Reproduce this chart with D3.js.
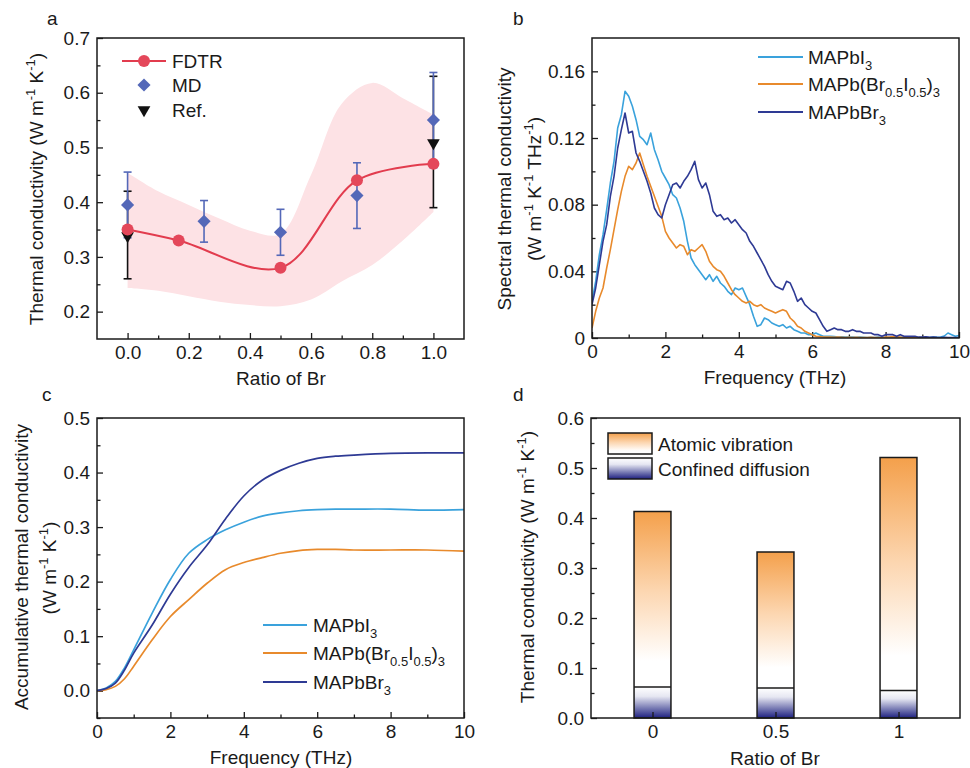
<!DOCTYPE html>
<html>
<head>
<meta charset="utf-8">
<script src="https://cdn.jsdelivr.net/npm/d3@7/dist/d3.min.js"></script>
<style>
  html, body { margin: 0; padding: 0; background: #fff; }
  svg { display: block; font-family: "Liberation Sans", Arial, Helvetica, sans-serif; }
</style>
</head>
<body>
<svg id="fig" width="970" height="768"></svg>
<script>
// ---------- (a) thermal conductivity vs Br ratio ----------
const fdtrRatio = [0, 0.167, 0.5, 0.75, 1.0];
const fdtrK     = [0.35, 0.33, 0.28, 0.44, 0.47];

const mdRatio = [0, 0.25, 0.5, 0.75, 1.0];
const mdK     = [0.395, 0.365, 0.345, 0.412, 0.55];
const mdErr   = [0.06, 0.038, 0.042, 0.06, 0.087];

const refRatio = [0, 1.0];
const refK     = [0.34, 0.51];
const refErr   = [0.08, 0.12];

const bandRatio = [0, 0.1, 0.2, 0.3, 0.4, 0.5, 0.6, 0.7, 0.8, 0.9, 1.0];
const bandHigh  = [0.454, 0.42, 0.395, 0.37, 0.348, 0.342, 0.45, 0.58, 0.618, 0.59, 0.56];
const bandLow   = [0.243, 0.238, 0.228, 0.218, 0.212, 0.21, 0.222, 0.255, 0.285, 0.33, 0.382];

// ---------- (b) spectral thermal conductivity, 0.1 THz grid from 0 to 10 THz ----------
const specI3 = [
  0.022,0.034,0.050,0.062,0.077,0.093,0.106,0.126,0.134,0.148,
  0.145,0.139,0.131,0.121,0.119,0.116,0.123,0.113,0.107,0.100,
  0.096,0.092,0.086,0.084,0.078,0.070,0.058,0.048,0.044,0.041,
  0.038,0.035,0.038,0.034,0.037,0.033,0.031,0.028,0.026,0.030,
  0.029,0.030,0.025,0.020,0.013,0.007,0.008,0.012,0.011,0.009,
  0.008,0.007,0.008,0.006,0.007,0.005,0.004,0.003,0.003,0.002,
  0.002,0.003,0.002,0.001,0.001,0.001,0.0008,0.0006,0.0007,0.0005,
  0.0005,0.0006,0.0004,0.0005,0.0004,0.0003,0.0004,0.0003,0.0005,0.0003,
  0.0004,0.0003,0.0005,0.0003,0.0004,0.0003,0.0002,0.0003,0.0004,0.0003,
  0.0003,0.0004,0.0003,0.0005,0.0004,0.0006,0.0012,0.0030,0.0020,0.0010,
  0.0015];
const specMix = [
  0.006,0.016,0.024,0.030,0.042,0.053,0.065,0.077,0.088,0.097,
  0.103,0.101,0.105,0.111,0.104,0.097,0.091,0.085,0.079,0.073,
  0.064,0.060,0.057,0.054,0.056,0.055,0.050,0.053,0.052,0.054,
  0.056,0.052,0.046,0.043,0.041,0.040,0.037,0.033,0.029,0.026,
  0.024,0.022,0.021,0.022,0.020,0.019,0.020,0.018,0.017,0.016,
  0.015,0.016,0.017,0.016,0.012,0.010,0.007,0.006,0.004,0.003,
  0.002,0.001,0.0008,0.0006,0.0005,0.0006,0.0004,0.0005,0.0004,0.0003,
  0.0004,0.0003,0.0004,0.0003,0.0002,0.0003,0.0004,0.0003,0.0002,0.0003,
  0.0005,0.0006,0.0008,0.0007,0.0005,0.0004,0.0003,0.0004,0.0003,0.0002,
  0.0002,0.0001,0.0001,0.0001,0.0001,0.0001,0.0001,0.0001,0.0001,0.0001,
  0.0001];
const specBr3 = [
  0.020,0.030,0.044,0.058,0.068,0.085,0.097,0.114,0.125,0.135,
  0.123,0.124,0.111,0.106,0.100,0.094,0.087,0.078,0.074,0.072,
  0.080,0.086,0.092,0.093,0.090,0.094,0.097,0.101,0.106,0.095,
  0.090,0.093,0.086,0.076,0.073,0.074,0.071,0.072,0.069,0.071,
  0.068,0.065,0.063,0.058,0.055,0.051,0.047,0.043,0.038,0.034,
  0.031,0.030,0.029,0.034,0.033,0.028,0.022,0.024,0.020,0.018,
  0.016,0.015,0.011,0.007,0.004,0.005,0.006,0.005,0.005,0.004,
  0.004,0.005,0.004,0.004,0.003,0.003,0.003,0.002,0.002,0.001,
  0.002,0.002,0.002,0.001,0.002,0.001,0.001,0.001,0.001,0.0005,
  0.0005,0.0007,0.0004,0.0006,0.0004,0.0003,0.0004,0.0003,0.0002,0.0003,
  0.0002];

// ---------- (c) accumulative thermal conductivity ----------
const accFreq = [0, 0.25, 0.5, 0.75, 1, 1.5, 2, 2.5, 3, 3.5, 4, 4.5, 5, 5.5, 6, 6.5, 7, 8, 9, 10];
const accI3   = [0, 0.005, 0.017, 0.042, 0.075, 0.142, 0.204, 0.252, 0.277, 0.295, 0.309, 0.320, 0.326, 0.330, 0.332, 0.333, 0.333, 0.333, 0.331, 0.332];
const accMix  = [0, 0.002, 0.008, 0.022, 0.045, 0.093, 0.136, 0.167, 0.197, 0.222, 0.235, 0.244, 0.252, 0.257, 0.259, 0.259, 0.258, 0.258, 0.258, 0.256];
const accBr3  = [0, 0.004, 0.014, 0.038, 0.069, 0.120, 0.177, 0.226, 0.267, 0.315, 0.357, 0.386, 0.404, 0.417, 0.426, 0.430, 0.432, 0.435, 0.436, 0.436];

// ---------- (d) contributions ----------
const barRatio    = [0, 0.5, 1];
const barTotal    = [0.413, 0.332, 0.521];
const barConfined = [0.062, 0.060, 0.055];

// ---------- styling ----------
const C = {
  ink: "#1a1a1a",
  I3: "#3aa2dc",
  mix: "#e88a2c",
  Br3: "#2e3a94",
  fdtr: "#e23c4e",
  fdtrPt: "#e4475a",
  band: "#fde2e5",
  md: "#5468b8",
  orange: "#f4a04b",
  navy: "#1e2080"
};
const FS = 19;     // tick / title font size
const SUBFS = 13;

const svg = d3.select("#fig");

// text with sub/superscript pieces: parts = [[string, "n"|"sup"|"sub"], ...]
function rich(sel, parts, size = FS) {
  let shift = 0;
  parts.forEach(([s, kind]) => {
    const target = kind === "sup" ? -0.42 * size : kind === "sub" ? 0.3 * size : 0;
    sel.append("tspan")
      .attr("dy", target - shift)
      .attr("font-size", kind === "n" ? size : SUBFS)
      .text(s);
    shift = target;
  });
  return sel;
}

function panel(cfg) {
  const g = svg.append("g");
  const x = d3.scaleLinear().domain(cfg.xd).range([cfg.l, cfg.r]);
  const y = d3.scaleLinear().domain(cfg.yd).range([cfg.b, cfg.t]);

  const style = s => {
    s.select(".domain").remove();
    s.selectAll(".tick line").attr("stroke", C.ink).attr("stroke-width", 1.3);
    s.selectAll(".tick text").attr("fill", C.ink).attr("font-size", FS)
      .attr("font-family", "Liberation Sans, Arial, sans-serif");
  };

  g.append("g").attr("transform", `translate(0,${cfg.b})`)
    .call(d3.axisBottom(x).tickValues(cfg.xMajor).tickFormat(cfg.xFmt).tickSize(-6).tickPadding(7))
    .call(style);
  if (cfg.xMinor) {
    g.append("g").attr("transform", `translate(0,${cfg.b})`)
      .call(d3.axisBottom(x).tickValues(cfg.xMinor).tickFormat("").tickSize(-3.5))
      .call(style);
  }
  g.append("g").attr("transform", `translate(${cfg.l},0)`)
    .call(d3.axisLeft(y).tickValues(cfg.yMajor).tickFormat(cfg.yFmt).tickSize(-6).tickPadding(7))
    .call(style);
  g.append("g").attr("transform", `translate(${cfg.l},0)`)
    .call(d3.axisLeft(y).tickValues(cfg.yMinor).tickFormat("").tickSize(-3.5))
    .call(style);

  const plot = g.append("g");
  const id = "clip" + cfg.name;
  svg.append("defs").append("clipPath").attr("id", id)
    .append("rect").attr("x", cfg.l).attr("y", cfg.t)
    .attr("width", cfg.r - cfg.l).attr("height", cfg.b - cfg.t);
  plot.attr("clip-path", `url(#${id})`);

  const front = g.append("g");
  front.append("rect")
    .attr("x", cfg.l).attr("y", cfg.t)
    .attr("width", cfg.r - cfg.l).attr("height", cfg.b - cfg.t)
    .attr("fill", "none").attr("stroke", C.ink).attr("stroke-width", 1.5);

  // panel letter
  svg.append("text").attr("x", cfg.letterX).attr("y", cfg.letterY)
    .attr("font-size", FS).attr("fill", C.ink).text(cfg.name);

  return { g, x, y, plot, front };
}

const f1 = d3.format(".1f");
const f2 = d => d === 0 ? "0" : d3.format(".2f")(d);

// ================= (a) =================
{
  const P = panel({
    name: "a", letterX: 47, letterY: 25,
    l: 97, r: 464, t: 38, b: 339,
    xd: [-0.1, 1.1], yd: [0.15, 0.7],
    xMajor: [0, 0.2, 0.4, 0.6, 0.8, 1.0], xFmt: f1,
    xMinor: [0.1, 0.3, 0.5, 0.7, 0.9],
    yMajor: [0.2, 0.3, 0.4, 0.5, 0.6, 0.7], yFmt: f1,
    yMinor: [0.25, 0.35, 0.45, 0.55, 0.65]
  });
  const { x, y, plot, g } = P;

  const band = bandRatio.map((r, i) => ({ r, hi: bandHigh[i], lo: bandLow[i] }));
  plot.append("path").datum(band)
    .attr("fill", C.band)
    .attr("d", d3.area().curve(d3.curveCatmullRom.alpha(0.5))
      .x(d => x(d.r)).y0(d => y(d.lo)).y1(d => y(d.hi)));

  const fd = fdtrRatio.map((r, i) => ({ r, k: fdtrK[i] }));
  plot.append("path").datum(fd)
    .attr("fill", "none").attr("stroke", C.fdtr).attr("stroke-width", 2)
    .attr("d", d3.line().curve(d3.curveCatmullRom.alpha(0.5)).x(d => x(d.r)).y(d => y(d.k)));

  const ref = refRatio.map((r, i) => ({ r, k: refK[i], e: refErr[i] }));
  const md = mdRatio.map((r, i) => ({ r, k: mdK[i], e: mdErr[i] }));

  function errBars(data, color) {
    const eb = g.append("g").attr("stroke", color).attr("stroke-width", 1.6);
    data.forEach(d => {
      eb.append("line").attr("x1", x(d.r)).attr("x2", x(d.r))
        .attr("y1", y(d.k - d.e)).attr("y2", y(d.k + d.e));
      [d.k - d.e, d.k + d.e].forEach(v => {
        eb.append("line").attr("x1", x(d.r) - 4).attr("x2", x(d.r) + 4)
          .attr("y1", y(v)).attr("y2", y(v));
      });
    });
  }
  errBars(ref, "#111");
  errBars(md, C.md);

  const tri = d3.symbol().type(d3.symbolTriangle).size(70);
  g.append("g").selectAll("path").data(ref).join("path")
    .attr("d", tri)
    .attr("transform", d => `translate(${x(d.r)},${y(d.k) + 1}) rotate(180)`)
    .attr("fill", "#111");

  g.append("g").selectAll("circle").data(fd).join("circle")
    .attr("cx", d => x(d.r)).attr("cy", d => y(d.k)).attr("r", 6)
    .attr("fill", C.fdtrPt);

  const dia = d3.symbol().type(d3.symbolDiamond2).size(110);
  g.append("g").selectAll("path").data(md).join("path")
    .attr("d", dia)
    .attr("transform", d => `translate(${x(d.r)},${y(d.k)})`)
    .attr("fill", C.md);

  // legend
  const lg = g.append("g");
  lg.append("line").attr("x1", 122).attr("x2", 166).attr("y1", 61).attr("y2", 61)
    .attr("stroke", C.fdtr).attr("stroke-width", 2);
  lg.append("circle").attr("cx", 144).attr("cy", 61).attr("r", 6).attr("fill", C.fdtrPt);
  lg.append("path").attr("d", dia).attr("transform", "translate(144,85)").attr("fill", C.md);
  lg.append("path").attr("d", tri).attr("transform", "translate(144,110) rotate(180)").attr("fill", "#111");
  [["FDTR", 68], ["MD", 92], ["Ref.", 117]].forEach(([t, yy]) =>
    lg.append("text").attr("x", 172).attr("y", yy).attr("font-size", FS).attr("fill", C.ink).text(t));

  svg.append("text").attr("x", 281).attr("y", 385).attr("text-anchor", "middle")
    .attr("font-size", FS).attr("fill", C.ink).text("Ratio of Br");
  rich(svg.append("text").attr("text-anchor", "middle").attr("fill", C.ink)
      .attr("transform", "translate(43,189) rotate(-90)"),
    [["Thermal conductivity (W m", "n"], ["-1", "sup"], [" K", "n"], ["-1", "sup"], [")", "n"]]);
}

// ================= (b) =================
{
  const P = panel({
    name: "b", letterX: 513, letterY: 25,
    l: 592, r: 959, t: 38, b: 338,
    xd: [0, 10], yd: [0, 0.18],
    xMajor: [0, 2, 4, 6, 8, 10], xFmt: d3.format("d"),
    xMinor: [1, 3, 5, 7, 9],
    yMajor: [0, 0.04, 0.08, 0.12, 0.16], yFmt: f2,
    yMinor: [0.02, 0.06, 0.10, 0.14]
  });
  const { x, y, plot, g } = P;
  const freq = d3.range(specI3.length).map(i => i / 10);
  const line = d3.line().x((d, i) => x(freq[i])).y(d => y(d));
  [[specI3, C.I3], [specMix, C.mix], [specBr3, C.Br3]].forEach(([s, c]) =>
    plot.append("path").datum(s).attr("fill", "none").attr("stroke", c)
      .attr("stroke-width", 1.6).attr("stroke-linejoin", "round").attr("d", line));

  const items = [
    [C.I3, [["MAPbI", "n"], ["3", "sub"]], 57],
    [C.mix, [["MAPb(Br", "n"], ["0.5", "sub"], ["I", "n"], ["0.5", "sub"], [")", "n"], ["3", "sub"]], 84],
    [C.Br3, [["MAPbBr", "n"], ["3", "sub"]], 112]
  ];
  items.forEach(([c, parts, yy]) => {
    g.append("line").attr("x1", 758).attr("x2", 803).attr("y1", yy).attr("y2", yy)
      .attr("stroke", c).attr("stroke-width", 1.8);
    rich(g.append("text").attr("x", 808).attr("y", yy + 7).attr("fill", C.ink), parts);
  });

  svg.append("text").attr("x", 775).attr("y", 384).attr("text-anchor", "middle")
    .attr("font-size", FS).attr("fill", C.ink).text("Frequency (THz)");
  svg.append("text").attr("text-anchor", "middle").attr("fill", C.ink).attr("font-size", FS)
    .attr("transform", "translate(511,189) rotate(-90)").text("Spectral thermal conductivity");
  rich(svg.append("text").attr("text-anchor", "middle").attr("fill", C.ink)
      .attr("transform", "translate(541,189) rotate(-90)"),
    [["(W m", "n"], ["-1", "sup"], [" K", "n"], ["-1", "sup"], [" THz", "n"], ["-1", "sup"], [")", "n"]]);
}

// ================= (c) =================
{
  const P = panel({
    name: "c", letterX: 42, letterY: 401,
    l: 97, r: 464, t: 418, b: 718,
    xd: [0, 10], yd: [-0.05, 0.5],
    xMajor: [0, 2, 4, 6, 8, 10], xFmt: d3.format("d"),
    xMinor: [1, 3, 5, 7, 9],
    yMajor: [0, 0.1, 0.2, 0.3, 0.4, 0.5], yFmt: f1,
    yMinor: [-0.05, 0.05, 0.15, 0.25, 0.35, 0.45]
  });
  const { x, y, plot, g } = P;
  const line = d3.line().curve(d3.curveCatmullRom.alpha(0.5)).x((d, i) => x(accFreq[i])).y(d => y(d));
  [[accI3, C.I3], [accMix, C.mix], [accBr3, C.Br3]].forEach(([s, c]) =>
    plot.append("path").datum(s).attr("fill", "none").attr("stroke", c)
      .attr("stroke-width", 1.7).attr("d", line));

  const items = [
    [C.I3, [["MAPbI", "n"], ["3", "sub"]], 625],
    [C.mix, [["MAPb(Br", "n"], ["0.5", "sub"], ["I", "n"], ["0.5", "sub"], [")", "n"], ["3", "sub"]], 653],
    [C.Br3, [["MAPbBr", "n"], ["3", "sub"]], 682]
  ];
  items.forEach(([c, parts, yy]) => {
    g.append("line").attr("x1", 263).attr("x2", 307).attr("y1", yy).attr("y2", yy)
      .attr("stroke", c).attr("stroke-width", 1.8);
    rich(g.append("text").attr("x", 313).attr("y", yy + 7).attr("fill", C.ink), parts);
  });

  svg.append("text").attr("x", 281).attr("y", 764).attr("text-anchor", "middle")
    .attr("font-size", FS).attr("fill", C.ink).text("Frequency (THz)");
  svg.append("text").attr("text-anchor", "middle").attr("fill", C.ink).attr("font-size", FS)
    .attr("transform", "translate(28,567) rotate(-90)").text("Accumulative thermal conductivity");
  rich(svg.append("text").attr("text-anchor", "middle").attr("fill", C.ink)
      .attr("transform", "translate(56,568) rotate(-90)"),
    [["(W m", "n"], ["-1", "sup"], [" K", "n"], ["-1", "sup"], [")", "n"]]);
}

// ================= (d) =================
{
  const defs = svg.append("defs");
  const gradA = defs.append("linearGradient").attr("id", "gAtomic")
    .attr("x1", 0).attr("y1", 1).attr("x2", 0).attr("y2", 0);
  [[0, "#ffffff"], [0.15, "#ffffff"], [0.55, "#fcd6b0"], [1, C.orange]].forEach(([o, c]) =>
    gradA.append("stop").attr("offset", o).attr("stop-color", c));
  const gradC = defs.append("linearGradient").attr("id", "gConfined")
    .attr("x1", 0).attr("y1", 1).attr("x2", 0).attr("y2", 0);
  [[0, C.navy], [0.3, "#7275b0"], [0.7, "#e6e7f2"], [1, "#ffffff"]].forEach(([o, c]) =>
    gradC.append("stop").attr("offset", o).attr("stop-color", c));

  const P = panel({
    name: "d", letterX: 513, letterY: 401,
    l: 591, r: 960, t: 418, b: 718,
    xd: [-0.25, 1.25], yd: [0, 0.6],
    xMajor: barRatio, xFmt: d => String(d),
    xMinor: null,
    yMajor: [0, 0.1, 0.2, 0.3, 0.4, 0.5, 0.6], yFmt: f1,
    yMinor: [0.05, 0.15, 0.25, 0.35, 0.45, 0.55]
  });
  const { x, y, g } = P;
  const half = 0.075;
  const bars = barRatio.map((r, i) => ({ r, tot: barTotal[i], conf: barConfined[i] }));
  const bg = g.insert("g", ":first-child");
  bg.selectAll("rect.conf").data(bars).join("rect").attr("class", "conf")
    .attr("x", d => x(d.r - half)).attr("width", d => x(d.r + half) - x(d.r - half))
    .attr("y", d => y(d.conf)).attr("height", d => y(0) - y(d.conf))
    .attr("fill", "url(#gConfined)");
  bg.selectAll("rect.atom").data(bars).join("rect").attr("class", "atom")
    .attr("x", d => x(d.r - half)).attr("width", d => x(d.r + half) - x(d.r - half))
    .attr("y", d => y(d.tot)).attr("height", d => y(d.conf) - y(d.tot))
    .attr("fill", "url(#gAtomic)");
  // outlines drawn above the gradients
  g.selectAll("rect.outline").data(bars).join("rect").attr("class", "outline")
    .attr("x", d => x(d.r - half)).attr("width", d => x(d.r + half) - x(d.r - half))
    .attr("y", d => y(d.tot)).attr("height", d => y(0) - y(d.tot))
    .attr("fill", "none").attr("stroke", C.ink).attr("stroke-width", 1.5);
  g.selectAll("line.sep").data(bars).join("line").attr("class", "sep")
    .attr("x1", d => x(d.r - half)).attr("x2", d => x(d.r + half))
    .attr("y1", d => y(d.conf)).attr("y2", d => y(d.conf))
    .attr("stroke", C.ink).attr("stroke-width", 1.5);

  // legend
  [["url(#gAtomic)", "Atomic vibration", 433], ["url(#gConfined)", "Confined diffusion", 458]].forEach(([f, t, yy]) => {
    g.append("rect").attr("x", 608).attr("y", yy).attr("width", 44).attr("height", 21)
      .attr("fill", f).attr("stroke", C.ink).attr("stroke-width", 1.5);
    g.append("text").attr("x", 658).attr("y", yy + 18).attr("font-size", FS)
      .attr("fill", C.ink).text(t);
  });

  svg.append("text").attr("x", 775).attr("y", 765).attr("text-anchor", "middle")
    .attr("font-size", FS).attr("fill", C.ink).text("Ratio of Br");
  rich(svg.append("text").attr("text-anchor", "middle").attr("fill", C.ink)
      .attr("transform", "translate(534,567) rotate(-90)"),
    [["Thermal conductivity (W m", "n"], ["-1", "sup"], [" K", "n"], ["-1", "sup"], [")", "n"]]);
}
</script>
</body>
</html>
